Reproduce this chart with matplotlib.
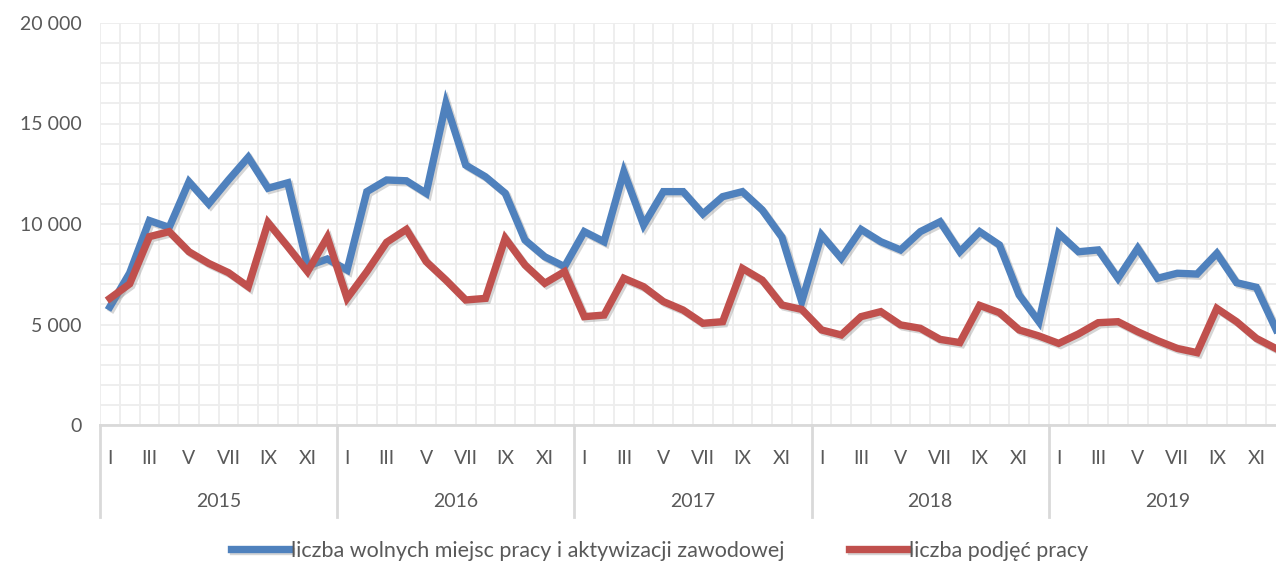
import numpy as np
import matplotlib.pyplot as plt
from matplotlib.lines import Line2D
import matplotlib.patheffects as pe

plt.rcParams['font.family'] = ['Lato', 'DejaVu Sans']

years = ['2015', '2016', '2017', '2018', '2019']
month_labels = ['I', '', 'III', '', 'V', '', 'VII', '', 'IX', '', 'XI', '']

# wolne miejsca pracy i aktywizacji zawodowej (monthly, 2015-2019)
oferty = [
    5880, 7560, 10170, 9830, 12100, 11000, 12190, 13320, 11780, 12050, 7910, 8260,
    7710, 11610, 12190, 12150, 11530, 16000, 12930, 12350, 11530, 9200, 8370, 7880,
    9620, 9120, 12600, 9950, 11610, 11610, 10500, 11360, 11610, 10700, 9340, 6140,
    9450, 8290, 9730, 9120, 8710, 9620, 10110, 8620, 9620, 8960, 6470, 5140,
    9530, 8620, 8710, 7300, 8790, 7300, 7550, 7510, 8540, 7080, 6850, 4750,
]
# podjecia pracy
podjecia = [
    6300, 7020, 9370, 9620, 8620, 8040, 7580, 6880, 10070, 8870, 7630, 9340,
    6300, 7630, 9090, 9730, 8130, 7210, 6220, 6300, 9290, 7960, 7050, 7630,
    5390, 5470, 7300, 6880, 6140, 5720, 5060, 5140, 7790, 7210, 5970, 5750,
    4730, 4480, 5390, 5640, 4980, 4810, 4260, 4100, 5950, 5590, 4730, 4430,
    4060, 4530, 5090, 5140, 4640, 4200, 3810, 3600, 5800, 5140, 4310, 3800,
]

blue = '#4F81BD'
red = '#C0504D'
grid_c = '#EDEDED'
axis_c = '#D9D9D9'
text_c = '#595959'

x = np.arange(len(oferty))

fig = plt.figure(figsize=(12.76, 5.65), dpi=100)
ax = fig.add_axes([100 / 1276, 140 / 565, 1186 / 1276, 402 / 565])

shadow = [pe.SimpleLineShadow(offset=(1.5, -1.5), shadow_color='#888888', alpha=0.35),
          pe.Normal()]
ax.plot(x, oferty, color=blue, lw=5.3, solid_joinstyle='miter', path_effects=shadow,
        label='liczba wolnych miejsc pracy i aktywizacji zawodowej', zorder=3)
ax.plot(x, podjecia, color=red, lw=5.3, solid_joinstyle='miter', path_effects=shadow,
        label='liczba podjęć pracy', zorder=3)

ax.set_xlim(-0.5, len(oferty) - 0.5)
ax.set_ylim(0, 20000)

# grid
ax.set_yticks(np.arange(0, 20001, 5000))
ax.set_yticks(np.arange(0, 20001, 1000), minor=True)
ax.set_yticklabels([f'{v:,}'.replace(',', ' ') for v in range(0, 20001, 5000)],
                   fontsize=14, color=text_c)
ax.set_xticks(np.arange(-0.5, len(oferty), 0.5), minor=True)
ax.grid(which='minor', axis='both', color=grid_c, lw=1.3, zorder=0)
ax.grid(which='major', axis='y', color=grid_c, lw=1.3, zorder=0)
ax.tick_params(axis='y', which='both', length=0, pad=13)
ax.tick_params(axis='x', which='both', length=0)

# month labels
ax.set_xticks(x)
ax.set_xticklabels(month_labels * len(years), fontsize=14, color=text_c)
ax.tick_params(axis='x', pad=18)

for s in ['top', 'right', 'left']:
    ax.spines[s].set_visible(False)
ax.spines['bottom'].set_color(axis_c)
ax.spines['bottom'].set_linewidth(2)

# year labels and separators
trans = ax.get_xaxis_transform()
for i, yr in enumerate(years):
    ax.text(i * 12 + 5.5, -0.19, yr, transform=trans, ha='center', va='center',
            fontsize=14, color=text_c)
for i in range(len(years) + 1):
    ax.add_line(Line2D([i * 12 - 0.5] * 2, [0, -0.229], transform=trans,
                       color=axis_c, lw=2, clip_on=False))

fig.legend(loc='center', bbox_to_anchor=(0.517, 0.025), ncol=2, frameon=False,
           fontsize=15.5, handlelength=2.7, handletextpad=0.1, columnspacing=3.0,
           labelcolor=text_c)

fig.savefig('out.png', dpi=100)
